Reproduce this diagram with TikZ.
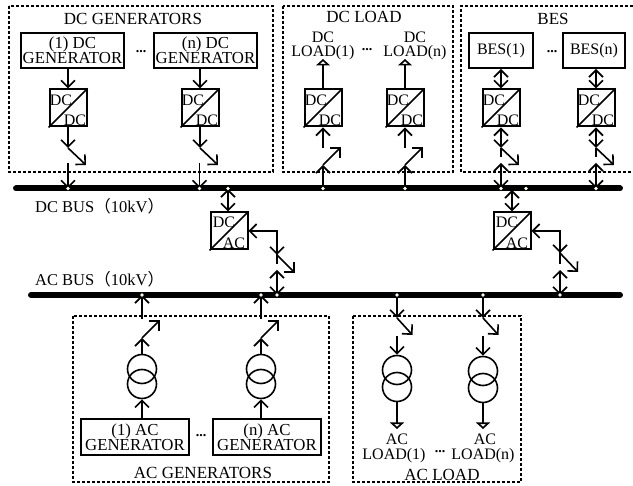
\documentclass[tikz,border=0pt]{standalone}
\usepackage{fontspec}
\setmainfont{Liberation Serif}
\newfontfamily\cjkfont{Noto Sans CJK SC}
\usetikzlibrary{arrows.meta}
\newcommand{\lp}{{\cjkfont （}}
\newcommand{\rp}{{\cjkfont ）}}
\tikzset{
  x=1pt,y=-1pt,
  lbl/.style={inner sep=0pt,font=\fontsize{16}{16}\selectfont,align=center},
  ttl/.style={inner sep=0pt,font=\fontsize{17}{17}\selectfont,align=center},
  buslbl/.style={inner sep=0pt,font=\fontsize{16.5}{16.5}\selectfont,anchor=west},
  genlbl/.style={inner sep=0pt,font=\fontsize{16.8}{15}\selectfont,align=center},
  ddots/.style={inner sep=0pt,font=\fontsize{14}{14}\selectfont\bfseries},
  boxx/.style={draw,line width=2pt,inner sep=0pt},
  conv/.style={draw,line width=2pt,inner sep=0pt,minimum size=37pt},
  wire/.style={line width=1.6pt},
  arr/.style={wire,-{Straight Barb[length=7pt,width=14pt]}},
  biarr/.style={wire,{Straight Barb[length=7pt,width=14pt]}-{Straight Barb[length=7pt,width=14pt]}},
  load/.style={wire,-{Triangle[open,length=6.5pt,width=14pt,line width=1.6pt]}},
  group/.style={line width=1.6pt,dash pattern=on 3pt off 2pt},
  bus/.style={line width=6pt,line cap=round},
  busdot/.style={circle,fill=yellow!12!white,inner sep=0pt,minimum size=3.6pt},
  xfmr/.style={circle,draw,line width=1.6pt,inner sep=0pt,minimum size=29pt}
}
% converter: name, centre x, centre y, upper text, lower text, dx of texts, dy of upper text
\newcommand{\conv}[7]{%
  \node[conv] (#1) at (#2,#3) {};
  \draw[wire] (#1.south west) -- (#1.north east);
  \node[lbl] (#1a) at (#2-#6,#3-#7) {#4};
  \node[lbl] (#1b) at (#2+#6,#3+12) {#5};
}
% switch leaf: name, x, y of tip, dx, dy
\newcommand{\leaf}[5]{%
  \coordinate (#1) at (#2,#3);
  \coordinate (#1e) at (#2+#4,#3+#5);
  \draw[arr] (#1) -- (#1e);
}
\begin{document}
\begin{tikzpicture}
\useasboundingbox (0,0) rectangle (633,486);
% group frames
\draw[group] (9,6) rectangle (273,172);
\draw[group] (283,6) rectangle (453,172);
\draw[group] (633,6) -- (461,6) -- (461,172) -- (633,172);
\draw[group] (73,316) rectangle (329,482);
\draw[group] (353,316) rectangle (521,482);
\node[ttl] (tdcg) at (133,19) {DC GENERATORS};
\node[ttl] (tdcl) at (364,17) {DC LOAD};
\node[ttl] (tbes) at (553,19) {BES};
\node[ttl] (tacg) at (203,473) {AC GENERATORS};
\node[ttl] (tacl) at (442,475) {AC LOAD};
% buses
\coordinate (dcl) at (16,188.5); \coordinate (dcr) at (620,188.5);
\coordinate (acl) at (31,295); \coordinate (acr) at (620,295);
\draw[bus] (dcl) -- (dcr);
\draw[bus] (acl) -- (acr);
\node[buslbl] (tdcb) at (35,206) {DC BUS\lp 10kV\rp};
\node[buslbl] (tacb) at (35,279) {AC BUS\lp 10kV\rp};
% bus points
\foreach \n/\x in {a/68,b/199.5,c/228,d/323,e/405,f/501,g/526,h/596}
  \coordinate (dc\n) at (\x,188.5);
\foreach \n/\x in {a/142,b/261,c/277,d/397,e/483,f/560}
  \coordinate (ac\n) at (\x,295);
% DC generators
\node[boxx,minimum width=103pt,minimum height=35pt,genlbl] (g1) at (72.5,50.5) {(1) DC\\GENERATOR};
\node[boxx,minimum width=103pt,minimum height=35pt,genlbl] (gn) at (205.5,50.5) {(n) DC\\GENERATOR};
\node[ddots] (dg) at (141,52) {...};
\conv{c1}{68}{108}{DC}{DC}{7}{8}
\conv{c2}{200}{108}{DC}{DC}{7}{8}
\draw[arr] (g1.south -| c1) -- (c1.north);
\draw[arr] (gn.south -| c2) -- (c2.north);
\coordinate (s1) at (68,148); \coordinate (s2) at (200,148);
\draw[arr] (c1.south) -- (s1);
\draw[arr] (c2.south) -- (s2);
\leaf{l1}{68}{148}{18}{17}
\leaf{l2}{200}{148}{18}{17}
\coordinate (r1) at (68,163); \coordinate (r2) at (199.5,163);
\draw[arr] (r1) -- (dca);
\draw[arr] (r2) -- (dcb);
% DC loads
\node[lbl] (tl1) at (323,37) {DC};
\node[lbl] (tl1b) at (323,53) {LOAD(1)};
\node[lbl] (tln) at (415,37) {DC};
\node[lbl] (tlnb) at (415,53) {LOAD(n)};
\node[ddots] (dl) at (367,50) {...};
\conv{c3}{323}{108}{DC}{DC}{7}{8}
\conv{c4}{405}{108}{DC}{DC}{7}{8}
\coordinate (p3) at (323,59); \coordinate (p4) at (405,59);
\draw[load] (c3.north) -- (p3);
\draw[load] (c4.north) -- (p4);
\coordinate (u3) at (323,148); \coordinate (u4) at (405,148);
\draw[arr] (u3) -- (c3.south);
\draw[arr] (u4) -- (c4.south);
\leaf{l3}{323}{165}{18}{-18}
\leaf{l4}{405}{165}{18}{-18}
\draw[arr] (dcd) -- (l3);
\draw[arr] (dce) -- (l4);
% BES
\node[boxx,minimum width=64pt,minimum height=35pt,lbl] (b1) at (501,50.5) {BES(1)};
\node[boxx,minimum width=62pt,minimum height=35pt,lbl] (bn) at (594,50.5) {BES(n)};
\node[ddots] (db) at (552,52) {...};
\conv{c5}{501}{108}{DC}{DC}{7}{8}
\conv{c6}{596}{108}{DC}{DC}{7}{8}
\draw[biarr] (b1.south -| c5) -- (c5.north);
\draw[biarr] (bn.south -| c6) -- (c6.north);
\coordinate (s5) at (501,148); \coordinate (s6) at (596,148);
\draw[biarr] (c5.south) -- (s5);
\draw[biarr] (c6.south) -- (s6);
\leaf{l5}{501}{148}{18}{17}
\leaf{l6}{596}{148}{18}{17}
\coordinate (e5) at (501,157); \coordinate (e6) at (596,157);
\draw[wire] (s5) -- (e5);
\draw[wire] (s6) -- (e6);
\coordinate (r5) at (501,163); \coordinate (r6) at (596,163);
\draw[biarr] (r5) -- (dcf);
\draw[biarr] (r6) -- (dch);
% DC/AC converters
\conv{c7}{229}{231}{DC}{AC}{5}{9}
\conv{c8}{512}{231}{DC}{AC}{5}{9}
\coordinate (t7) at (228,189); \coordinate (t8) at (512,190);
\draw[biarr] (t7) -- (c7.north -| t7);
\draw[biarr] (t8) -- (c8.north);
\coordinate (k7) at (277,231); \coordinate (k8) at (560,231);
\coordinate (s7) at (277,255); \coordinate (s8) at (560,253);
\draw[arr] (s7) -- (k7) -- (c7.east);
\draw[arr] (s8) -- (k8) -- (c8.east);
\draw[arr] (k7) -- (s7);
\draw[arr] (k8) -- (s8);
\leaf{l7}{277}{255}{18}{18}
\leaf{l8}{560}{253}{18}{19}
\coordinate (e7) at (277,264); \coordinate (e8) at (560,264);
\draw[wire] (s7) -- (e7);
\draw[wire] (s8) -- (e8);
\coordinate (r7) at (277,270); \coordinate (r8) at (560,270);
\draw[biarr] (r7) -- (acc);
\draw[biarr] (r8) -- (acf);
% AC generators
\node[boxx,minimum width=108pt,minimum height=36pt,genlbl] (g3) at (135,437) {(1) AC\\GENERATOR};
\node[boxx,minimum width=108pt,minimum height=36pt,genlbl] (g4) at (267,437) {(n) AC\\GENERATOR};
\node[ddots] (da) at (201,436) {...};
\node[xfmr] (t1a) at (142,369) {};
\node[xfmr] (t1b) at (142,384) {};
\node[xfmr] (t2a) at (261,369) {};
\node[xfmr] (t2b) at (261,384) {};
\draw[arr] (g3.north -| t1b) -- (t1b.south);
\draw[arr] (g4.north -| t2b) -- (t2b.south);
\coordinate (u1) at (142,338); \coordinate (u2) at (261,338);
\draw[arr] (t1a.north) -- (u1);
\draw[arr] (t2a.north) -- (u2);
\leaf{l9}{142}{338}{18}{-18}
\leaf{l10}{261}{338}{18}{-18}
\coordinate (v1) at (142,319); \coordinate (v2) at (261,319);
\draw[arr] (v1) -- (aca);
\draw[arr] (v2) -- (acb);
% AC loads
\node[xfmr] (t3a) at (397,370) {};
\node[xfmr] (t3b) at (397,387) {};
\node[xfmr] (t4a) at (483,371) {};
\node[xfmr] (t4b) at (483,388) {};
\coordinate (w1) at (397,318); \coordinate (w2) at (483,318);
\draw[arr] (acd) -- (w1);
\draw[arr] (ace) -- (w2);
\leaf{l11}{397}{318}{15.5}{17}
\leaf{l12}{483}{318}{15.5}{17}
\coordinate (x1) at (397,336); \coordinate (x2) at (483,336);
\draw[arr] (x1) -- (t3a.north);
\draw[arr] (x2) -- (t4a.north);
\coordinate (q1) at (397,429); \coordinate (q2) at (483,429);
\draw[load] (t3b.south) -- (q1);
\draw[load] (t4b.south) -- (q2);
\node[lbl] (ta1) at (397,439) {AC};
\node[lbl] (ta1b) at (394,456) {LOAD(1)};
\node[lbl] (tan) at (485,439) {AC};
\node[lbl] (tanb) at (483,456) {LOAD(n)};
\node[ddots] (dd) at (440,452) {...};
% bus dots on top
\foreach \n in {a,b,c,d,e,f,g,h} \node[busdot] at (dc\n) {};
\foreach \n in {a,b,c,d,e,f} \node[busdot] at (ac\n) {};
\end{tikzpicture}
\end{document}
